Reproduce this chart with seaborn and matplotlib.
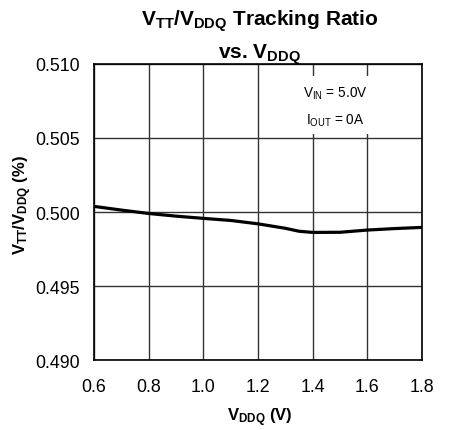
import numpy as np
import pandas as pd
import matplotlib
matplotlib.use("Agg")
import matplotlib.pyplot as plt
from matplotlib.patches import Rectangle
import seaborn as sns

# Curve
vddq = [0.6, 0.7, 0.8, 0.9, 1.0, 1.1, 1.2, 1.3, 1.35, 1.4, 1.5, 1.6, 1.7, 1.8]
ratio = [0.50038, 0.50013, 0.49990, 0.49972, 0.49957, 0.49943, 0.49920,
         0.49890, 0.49870, 0.49862, 0.49863, 0.49878, 0.49888, 0.49896]

x_ticks = [0.6, 0.8, 1.0, 1.2, 1.4, 1.6, 1.8]
y_ticks = [0.490, 0.495, 0.500, 0.505, 0.510]

df = pd.DataFrame({"vddq": vddq, "ratio": ratio})

sns.set_style("white")
plt.rcParams["font.family"] = ["Liberation Sans", "DejaVu Sans"]
plt.rcParams["mathtext.fontset"] = "custom"
plt.rcParams["mathtext.rm"] = "Liberation Sans"
plt.rcParams["mathtext.it"] = "Liberation Sans"
plt.rcParams["mathtext.bf"] = "Liberation Sans:bold"
plt.rcParams["text.color"] = "black"
plt.rcParams["xtick.color"] = "black"
plt.rcParams["ytick.color"] = "black"

fig = plt.figure(figsize=(4.51, 4.31), dpi=100)
ax = fig.add_axes([0.2084, 0.1624, 0.7273, 0.6868])

sns.lineplot(data=df, x="vddq", y="ratio", ax=ax, color="black", lw=2.3, zorder=4)

ax.set_xlim(0.6, 1.8)
ax.set_ylim(0.490, 0.510)
ax.set_xticks(x_ticks)
ax.set_yticks(y_ticks)
ax.set_xticklabels([f"{v:.1f}" for v in x_ticks])
ax.set_yticklabels([f"{v:.3f}" for v in y_ticks])
ax.tick_params(length=0, labelsize=12.8, labelcolor="black")
ax.tick_params(axis="x", pad=13)
ax.tick_params(axis="y", pad=10)
ax.grid(True, color="#333333", lw=1.0)
for s in ax.spines.values():
    s.set_color("black")
    s.set_linewidth(1.2)

ax.set_xlabel("")
ax.set_ylabel("")
fig.text(0.575, 0.03, r"$\mathbf{V_{DDQ}}$ (V)", ha="center", va="center",
         fontsize=12, fontweight="bold")
fig.text(0.05, 0.525, r"$\mathbf{V_{TT}/V_{DDQ}}$ (%)", ha="center", va="center",
         rotation=90, fontsize=12, fontweight="bold")

fig.text(0.575, 0.95, r"$\mathbf{V_{TT}/V_{DDQ}}$ Tracking Ratio", ha="center", va="center",
         fontsize=15, fontweight="bold")
fig.text(0.575, 0.872, r"vs. $\mathbf{V_{DDQ}}$", ha="center", va="center",
         fontsize=15, fontweight="bold")

# white box hiding the grid behind the conditions text
ax.add_patch(Rectangle((0.625, 0.764), 0.225, 0.195, transform=ax.transAxes,
                       fc="white", ec="none", zorder=3))
ax.text(0.735, 0.858, "$\\mathregular{V_{IN}}$ = 5.0V\n$\\mathregular{I_{OUT}}$ = 0A",
        transform=ax.transAxes, ha="center", va="center", fontsize=9.8,
        linespacing=1.85, zorder=5)

fig.savefig("out.png", dpi=100)
